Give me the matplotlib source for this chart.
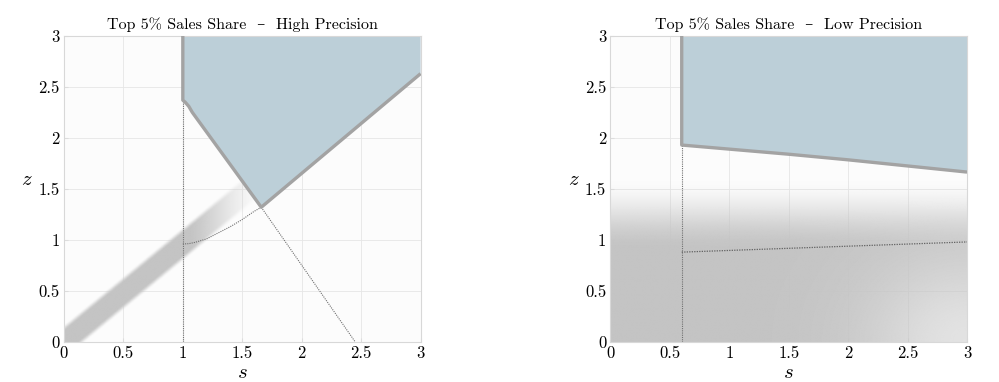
import numpy as np
import matplotlib
matplotlib.use("Agg")
import matplotlib.pyplot as plt
from matplotlib.colors import to_rgb

plt.rcParams['font.family'] = ['cmr10', 'DejaVu Serif']
plt.rcParams['mathtext.fontset'] = 'cm'
plt.rcParams['axes.formatter.use_mathtext'] = True

# ---- data ----
titles = ["Top 5% Sales Share  \u2013  High Precision",
          "Top 5% Sales Share  \u2013  Low Precision"]
ticks = [0, 0.5, 1, 1.5, 2, 2.5, 3]
tick_labels = ["0", "0.5", "1", "1.5", "2", "2.5", "3"]

# high precision: region boundary
hi_bound_s = [1.0, 1.0, 1.02, 1.05, 1.08, 1.66, 3.0]
hi_bound_z = [3.0, 2.37, 2.35, 2.31, 2.25, 1.32, 2.63]
hi_cutoff = 1.0
hi_curve_s = [1.0, 1.05, 1.1, 1.2, 1.3, 1.4, 1.5, 1.6, 1.66]
hi_curve_z = [0.96, 0.963, 0.975, 1.01, 1.07, 1.13, 1.2, 1.28, 1.32]
hi_ext_s = [1.66, 2.45]
hi_ext_z = [1.32, 0.0]
# diagonal band (slope, intercept, half width, fade start, fade end)
band_slope = 0.96
band_icpt = 0.0
band_half = 0.1
band_fade = [1.05, 1.72]

# low precision: region boundary
lo_bound_s = [0.6, 0.6, 1.0, 1.5, 2.0, 2.5, 3.0]
lo_bound_z = [3.0, 1.93, 1.89, 1.84, 1.785, 1.725, 1.665]
lo_cutoff = 0.6
lo_line_s = [0.6, 3.0]
lo_line_z = [0.88, 0.98]
# shade fades between these z levels
lo_fade = [0.9, 1.6]

fill_col = "#bccfd8"
edge_col = "#a3a3a3"
shade_col = "#c4c4c4"

fig = plt.figure(figsize=(9.99, 3.82), dpi=100)
ax1 = fig.add_axes([0.064, 0.105, 0.357, 0.801])
ax2 = fig.add_axes([0.611, 0.105, 0.357, 0.801])

ss = np.linspace(0, 3, 400)
zz = np.linspace(0, 3, 400)
S, Z = np.meshgrid(ss, zz)
rgb = to_rgb(shade_col)


def smooth(x):
    x = np.clip(x, 0, 1)
    return x * x * (3 - 2 * x)


# band image for left panel
d = np.abs(Z - (band_slope * S + band_icpt)) / np.sqrt(1 + band_slope ** 2)
a_band = 1 - smooth((d - band_half * 0.75) / (band_half * 0.5))
a_band *= 1 - smooth((S - band_fade[0]) / (band_fade[1] - band_fade[0])) ** 0.7
img1 = np.zeros(S.shape + (4,))
img1[..., :3] = rgb
img1[..., 3] = a_band

# shade image for right panel
a_lo = 1 - smooth((Z - lo_fade[0]) / (lo_fade[1] - lo_fade[0]))
a_lo *= 1 - 0.55 * np.exp(-((S - 3.0) ** 2 + Z ** 2) / 0.7)
img2 = np.zeros(S.shape + (4,))
img2[..., :3] = rgb
img2[..., 3] = a_lo

panels = [
    (ax1, img1, hi_bound_s, hi_bound_z, hi_cutoff),
    (ax2, img2, lo_bound_s, lo_bound_z, lo_cutoff),
]

for k, (ax, img, bs, bz, cut) in enumerate(panels):
    ax.set_facecolor("#fcfcfc")
    ax.imshow(img, extent=[0, 3, 0, 3], origin="lower", aspect="auto",
              interpolation="bilinear", zorder=1)
    ax.fill(bs + [3.0], bz + [3.0], color=fill_col, lw=0, zorder=2)
    ax.plot(bs, bz, color=edge_col, lw=2.4, zorder=4, solid_capstyle="butt")
    ax.plot([cut, cut], [0, bz[1]], color="#707070", lw=0.8, ls=(0, (1, 1)), zorder=3)
    ax.set_xlim(0, 3)
    ax.set_ylim(0, 3)
    ax.set_xticks(ticks)
    ax.set_yticks(ticks)
    ax.set_xticklabels(tick_labels, fontsize=12)
    ax.set_yticklabels(tick_labels, fontsize=12)
    ax.tick_params(direction="in", length=3, color="#dddddd", pad=3)
    ax.grid(True, color="#e6e6e6", lw=0.6, zorder=0)
    ax.set_axisbelow(True)
    for sp in ax.spines.values():
        sp.set_color("#d8d8d8")
        sp.set_linewidth(0.8)
    ax.set_title(titles[k], fontsize=11.5, pad=5)
    ax.set_xlabel("$s$", fontsize=15, labelpad=2)
    ax.set_ylabel("$z$", fontsize=15, rotation=0, labelpad=8)

ax1.plot(hi_curve_s, hi_curve_z, color="#707070", lw=0.8, ls=(0, (1, 1)), zorder=3)
ax1.plot(hi_ext_s, hi_ext_z, color="#707070", lw=0.8, ls=(0, (1, 1)), zorder=3)
ax2.plot(lo_line_s, lo_line_z, color="#606060", lw=0.9, ls=(0, (1, 1)), zorder=3)

fig.savefig("out.png", dpi=100, facecolor="white")
